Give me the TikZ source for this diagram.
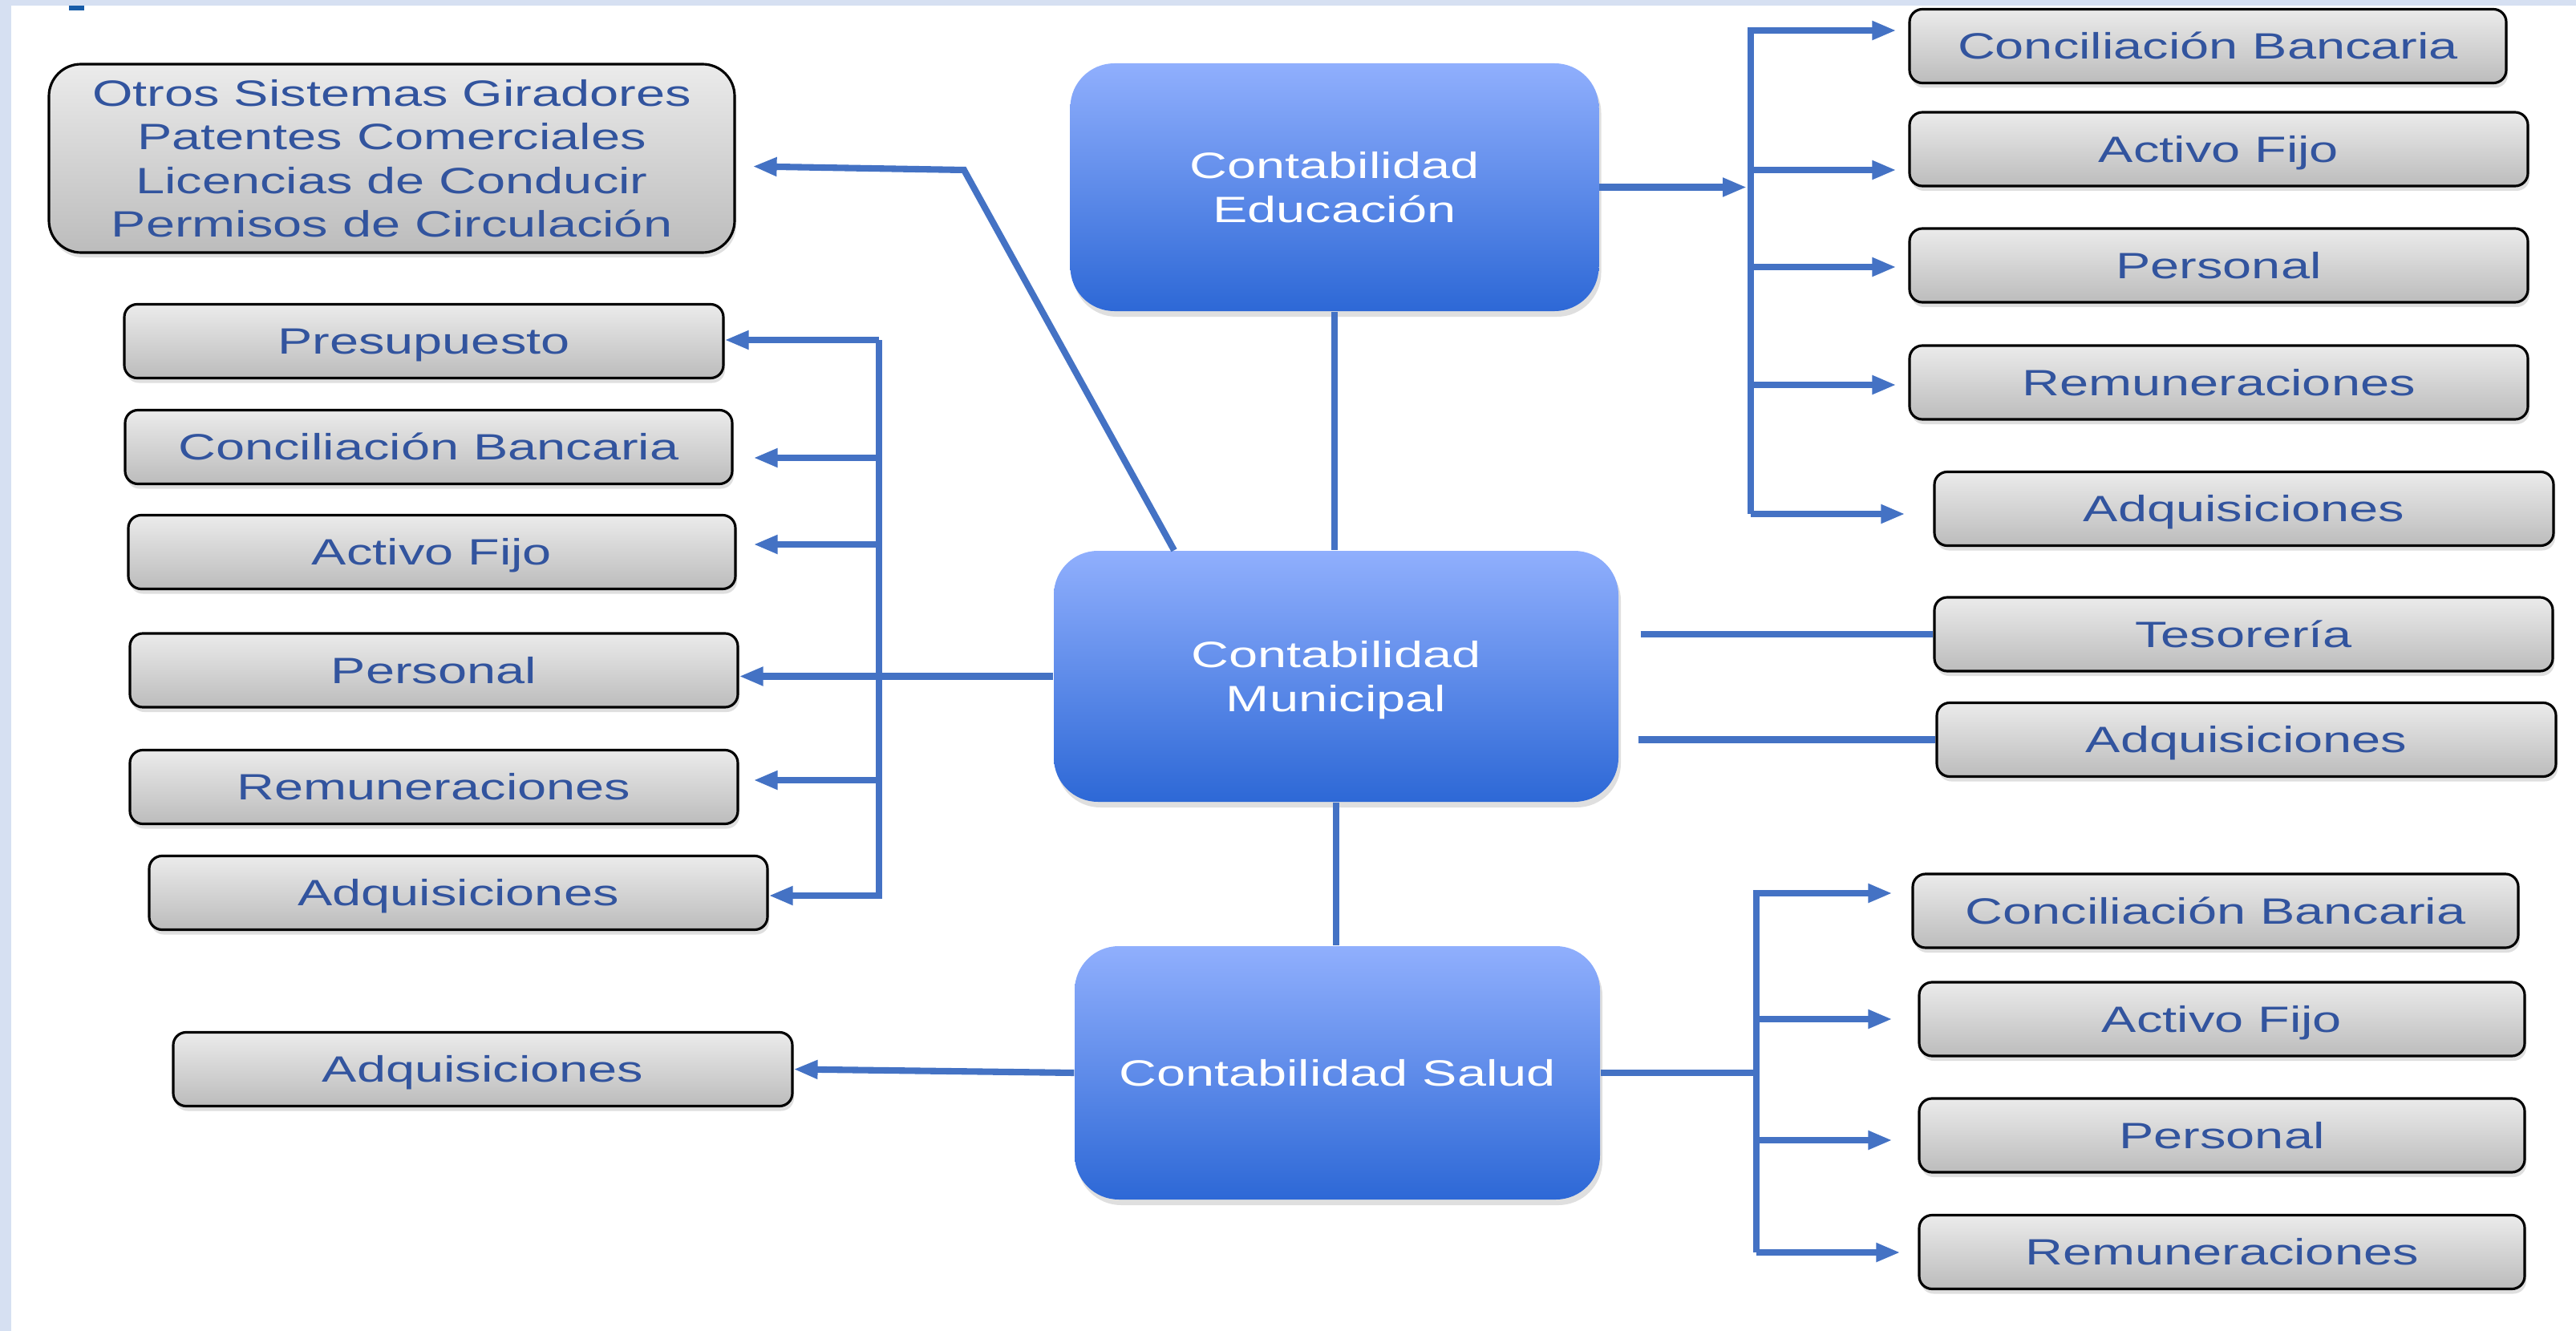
\documentclass[tikz,border=0pt]{standalone}
\usepackage{fontspec}
\setmainfont{Liberation Sans}[FakeStretch=1.42]
\usetikzlibrary{arrows.meta,shadows}

\definecolor{linkblue}{RGB}{68,114,196}
\definecolor{itemtext}{RGB}{50,84,158}
\definecolor{itemtop}{RGB}{235,235,235}
\definecolor{itembot}{RGB}{188,188,188}
\definecolor{hubtop}{RGB}{144,175,253}
\definecolor{hubbot}{RGB}{45,104,214}
\definecolor{bandblue}{RGB}{214,224,242}
\definecolor{markblue}{RGB}{24,92,168}

\begin{document}
\begin{tikzpicture}[
    font=\fontsize{13pt}{15.5pt}\selectfont,
    boxbase/.style={draw=black, line width=0.9pt, rounded corners=0.16cm,
      top color=itemtop, bottom color=itembot, text=itemtext,
      minimum height=0.92cm, inner sep=0pt, align=center,
      drop shadow={shadow xshift=0.02cm, shadow yshift=-0.06cm, opacity=0.25}},
    item/.style={boxbase, text height=9.3pt, text depth=0pt},
    hub/.style={rounded corners=0.55cm, top color=hubtop, bottom color=hubbot,
      text=white, inner sep=0pt, align=center, text depth=0pt,
      drop shadow={shadow xshift=0.03cm, shadow yshift=-0.07cm, opacity=0.25}},
    link/.style={draw=linkblue, line width=2.3pt},
    arr/.style={link, -{Triangle[length=0.3cm, width=0.22cm]}}
  ]
    % Page
    \useasboundingbox (0,0) rectangle (32.12,-16.60);
    \fill[white] (0,0) rectangle (32.12,-16.60);
    \fill[bandblue] (0,0) rectangle (0.14,-16.60);
    \fill[bandblue] (0,0) rectangle (32.12,-0.07);
    \fill[markblue] (0.86,-0.07) rectangle (1.05,-0.13);

    % Centre
    \node[hub, minimum width=6.59cm, minimum height=3.09cm] (edu) at (16.64,-2.335) {Contabilidad\\Educación};
    \node[hub, minimum width=7.04cm, minimum height=3.13cm] (mun) at (16.66,-8.435) {Contabilidad\\Municipal};
    \node[hub, minimum width=6.55cm, minimum height=3.16cm] (sal) at (16.675,-13.38) {Contabilidad Salud};

    % Left
    \node[boxbase, rounded corners=0.4cm, minimum width=8.55cm, minimum height=2.35cm] (otros) at (4.885,-1.975)
      {Otros Sistemas Giradores\\Patentes Comerciales\\Licencias de Conducir\\Permisos de Circulación};
    \node[item, minimum width=7.47cm] (pre) at (5.285,-4.255) {Presupuesto};
    \node[item, minimum width=7.57cm] (conL) at (5.345,-5.575) {Conciliación Bancaria};
    \node[item, minimum width=7.57cm] (actL) at (5.385,-6.885) {Activo Fijo};
    \node[item, minimum width=7.58cm] (perL) at (5.41,-8.36) {Personal};
    \node[item, minimum width=7.58cm] (remL) at (5.41,-9.815) {Remuneraciones};
    \node[item, minimum width=7.71cm] (adqL) at (5.715,-11.135) {Adquisiciones};
    \node[item, minimum width=7.72cm] (adqS) at (6.02,-13.335) {Adquisiciones};

    % Right
    \node[item, minimum width=7.44cm] (conE) at (27.53,-0.575) {Conciliación Bancaria};
    \node[item, minimum width=7.71cm] (actE) at (27.665,-1.86) {Activo Fijo};
    \node[item, minimum width=7.71cm] (perE) at (27.665,-3.31) {Personal};
    \node[item, minimum width=7.71cm] (remE) at (27.665,-4.77) {Remuneraciones};
    \node[item, minimum width=7.72cm] (adqE) at (27.98,-6.345) {Adquisiciones};
    \node[item, minimum width=7.71cm] (tes) at (27.975,-7.91) {Tesorería};
    \node[item, minimum width=7.72cm] (adqM) at (28.01,-9.225) {Adquisiciones};
    \node[item, minimum width=7.55cm] (conS) at (27.625,-11.36) {Conciliación Bancaria};
    \node[item, minimum width=7.55cm] (actS) at (27.705,-12.71) {Activo Fijo};
    \node[item, minimum width=7.55cm] (perS) at (27.705,-14.16) {Personal};
    \node[item, minimum width=7.55cm] (remS) at (27.705,-15.615) {Remuneraciones};

    % Bus points
    \coordinate (lbT) at (10.96,-4.24);
    \coordinate (lb2) at (10.96,-5.71);
    \coordinate (lb3) at (10.96,-6.79);
    \coordinate (lb5) at (10.96,-9.73);
    \coordinate (lbB) at (10.96,-11.17);
    \coordinate (ebT) at (21.83,-0.38);
    \coordinate (eb2) at (21.83,-2.12);
    \coordinate (eb3) at (21.83,-3.33);
    \coordinate (eb4) at (21.83,-4.80);
    \coordinate (ebB) at (21.83,-6.41);
    \coordinate (sbT) at (21.90,-11.14);
    \coordinate (sb2) at (21.90,-12.71);
    \coordinate (sb3) at (21.90,-14.22);
    \coordinate (sbB) at (21.90,-15.62);
    \coordinate (otk) at (12.02,-2.12);

    % Trunk
    \draw[link] (edu.south) -- (edu.south |- mun.north);
    \draw[link] (mun.south) -- (mun.south |- sal.north);

    % Municipal
    \draw[arr] ([xshift=-2.02cm]mun.north) -- (otk) -- ([xshift=0.21cm,yshift=-0.1cm]otros.east);
    \draw[arr] (mun.west) -- (mun.west -| perL.east);
    \draw[arr] (lbT) -- (lbT -| pre.east);
    \draw[arr] (lbT) -- (lbB) -- (lbB -| adqL.east);
    \foreach \c/\n/\s in {lb2/conL/0.25, lb3/actL/0.21, lb5/remL/0.18}{
      \draw[arr, shorten >=\s cm] (\c) -- (\c -| \n.east);
    }
    \draw[link] ([xshift=0.27cm]mun.east |- tes.west) -- (tes.west);
    \draw[link] ([xshift=0.24cm]mun.east |- adqM.west) -- (adqM.west);

    % Educacion
    \draw[arr, shorten >=0.05cm] (edu.east) -- (edu.east -| ebT);
    \draw[arr, shorten >=0.15cm] (ebB) -- (ebT) -- (ebT -| conE.west);
    \foreach \c/\n in {eb2/actE, eb3/perE, eb4/remE}{
      \draw[arr, shorten >=0.15cm] (\c) -- (\c -| \n.west);
    }
    \draw[arr, shorten >=0.35cm] (ebB) -- (ebB -| adqE.west);

    % Salud
    \draw[arr] (sal.west) -- (adqS.east);
    \draw[link] (sal.east) -- (sal.east -| sbT);
    \draw[arr, shorten >=0.24cm] (sbB) -- (sbT) -- (sbT -| conS.west);
    \foreach \c/\n in {sb2/actS, sb3/perS}{
      \draw[arr, shorten >=0.32cm] (\c) -- (\c -| \n.west);
    }
    \draw[arr, shorten >=0.22cm] (sbB) -- (sbB -| remS.west);
  \end{tikzpicture}
\end{document}
